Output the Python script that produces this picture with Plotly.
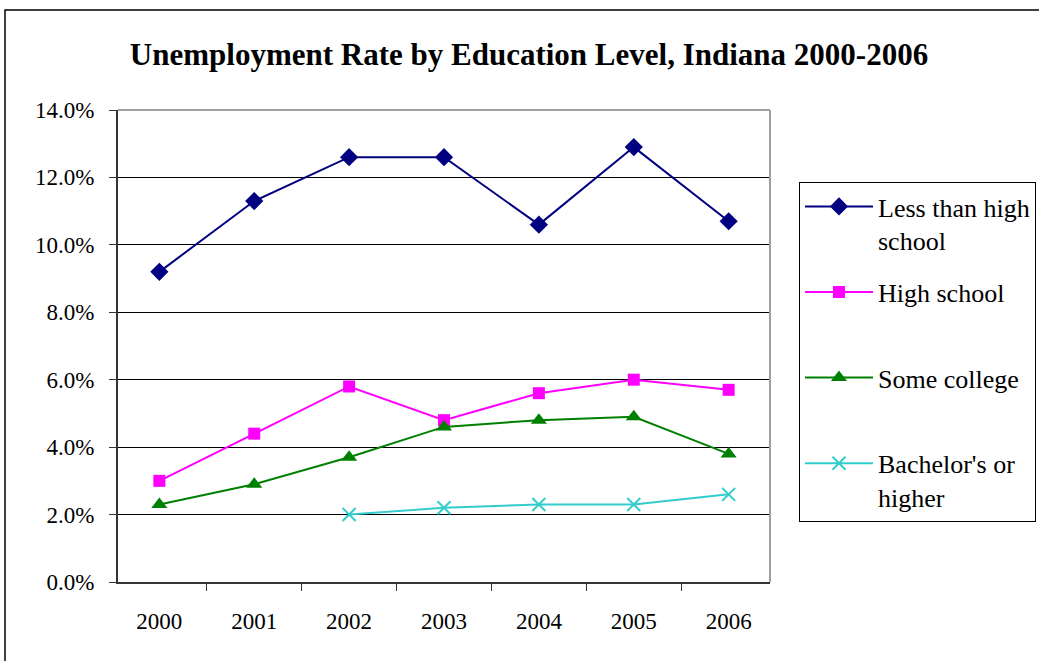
import plotly.graph_objects as go

years = ["2000", "2001", "2002", "2003", "2004", "2005", "2006"]

less_than_hs = [9.2, 11.3, 12.6, 12.6, 10.6, 12.9, 10.7]
high_school = [3.0, 4.4, 5.8, 4.8, 5.6, 6.0, 5.7]
some_college = [2.3, 2.9, 3.7, 4.6, 4.8, 4.9, 3.8]
bachelors_plus = [None, None, 2.0, 2.2, 2.3, 2.3, 2.6]

y_ticks = [0, 2, 4, 6, 8, 10, 12, 14]
y_tick_text = [f"{v:.1f}%" for v in y_ticks]

SERIF = "'Liberation Serif', 'Times New Roman', Times, serif"

W, H = 1039, 661
ML, MR, MT, MB = 118, 269, 110, 79
PW, PH = W - ML - MR, H - MT - MB

series = [
    ("Less than high<br>school", less_than_hs, "#000080",
     dict(symbol="diamond", size=14, color="#000080")),
    ("High school<br> ", high_school, "#FF00FF",
     dict(symbol="square", size=12, color="#FF00FF")),
    ("Some college<br> ", some_college, "#008000",
     dict(symbol="triangle-up", size=14, color="#008000")),
    ("Bachelor's or<br>higher", bachelors_plus, "#33CCCC",
     dict(symbol="x-thin-open", size=13, color="#33CCCC",
          line=dict(width=2, color="#33CCCC"))),
]

fig = go.Figure()
for i, (name, vals, color, marker) in enumerate(series):
    fig.add_trace(go.Scatter(
        x=years, y=vals, name=name, mode="lines+markers",
        line=dict(color=color, width=2), marker=marker,
        legendgroup=f"g{i}", connectgaps=False,
    ))


def px_x(x):
    return (x - ML) / PW


def px_y(y):
    return (H - MB - y) / PH


shapes = [
    # outer chart border
    dict(type="rect", xref="paper", yref="paper",
         x0=px_x(5), x1=px_x(W + 10), y0=px_y(H + 10), y1=px_y(10),
         line=dict(color="#000000", width=1.5), layer="below"),
    # plot area frame (top and right edges)
    dict(type="line", xref="paper", yref="paper", x0=0, x1=1, y0=1, y1=1,
         line=dict(color="#A0A0A0", width=2)),
    dict(type="line", xref="paper", yref="paper", x0=1, x1=1, y0=0, y1=1,
         line=dict(color="#A0A0A0", width=2)),
]

fig.update_layout(
    width=W, height=H,
    margin=dict(l=ML, r=MR, t=MT, b=MB, autoexpand=False),
    paper_bgcolor="white", plot_bgcolor="white",
    font=dict(family=SERIF, color="black", size=23),
    title=dict(
        text="<b>Unemployment Rate by Education Level, Indiana 2000-2006</b>",
        x=529 / W, xanchor="center", y=1 - 54 / H, yanchor="middle",
        font=dict(family=SERIF, size=31, color="black"),
    ),
    xaxis=dict(
        type="category", tickson="boundaries", showgrid=False,
        showline=True, linecolor="#333333", linewidth=2,
        ticks="outside", ticklen=7, tickcolor="#333333",
        ticklabelstandoff=17, zeroline=False,
    ),
    yaxis=dict(
        range=[0, 14], tickvals=y_ticks, ticktext=y_tick_text,
        showgrid=True, gridcolor="#000000", gridwidth=1,
        showline=True, linecolor="#333333", linewidth=2,
        ticks="outside", ticklen=7, tickcolor="#333333",
        ticklabelstandoff=10, zeroline=False,
    ),
    legend=dict(
        x=px_x(799), xanchor="left", y=px_y(182), yanchor="top",
        bordercolor="#000000", borderwidth=1, bgcolor="white",
        font=dict(family=SERIF, size=26, color="black"),
        valign="top", tracegroupgap=15, itemwidth=68,
    ),
    shapes=shapes,
)

fig.write_html("out.html")
